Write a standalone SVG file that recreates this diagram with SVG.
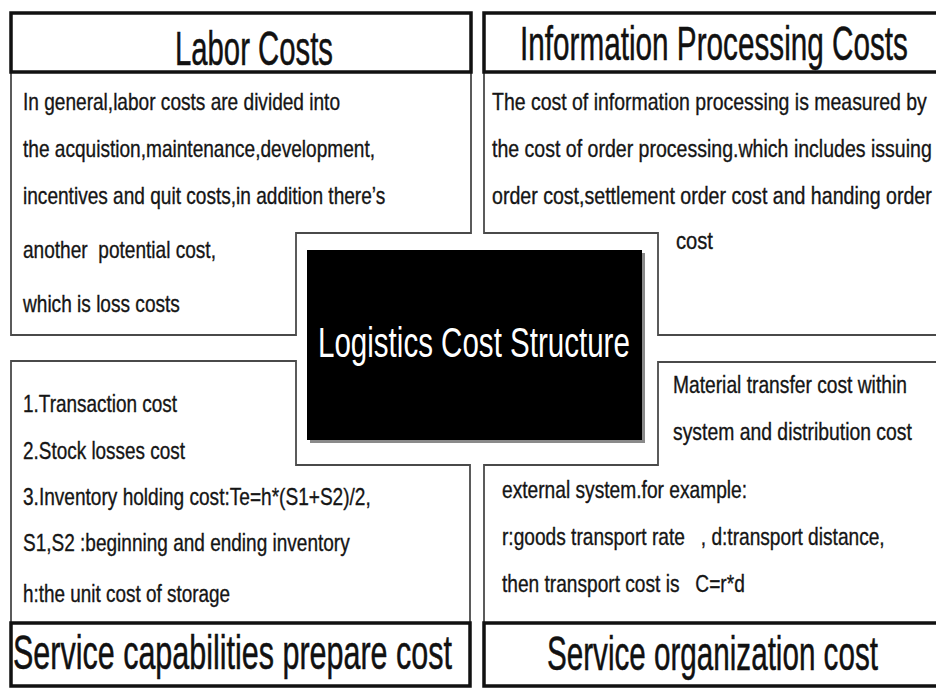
<svg xmlns="http://www.w3.org/2000/svg" width="936" height="688" viewBox="0 0 936 688">
  <style>
    .bg { fill: #ffffff; }
    .head { fill: #ffffff; stroke: #111111; stroke-width: 3.5; }
    .head-edge { fill: none; stroke: #111111; stroke-width: 3.5; }
    .head-fill { fill: #ffffff; }
    .panel { fill: none; stroke: #4a4a4a; stroke-width: 1.8; stroke-linejoin: miter; }
    .title { font-family: "Liberation Sans", Arial, sans-serif; font-size: 48px; fill: #111111; stroke: #111111; stroke-width: 0.5; }
    .body { font-family: "Liberation Sans", Arial, sans-serif; font-size: 24px; fill: #151515; stroke: #151515; stroke-width: 0.35; white-space: pre; }
    .core-text { font-family: "Liberation Sans", Arial, sans-serif; font-size: 42px; fill: #ffffff; }
  </style>

  <rect class="bg" x="0" y="0" width="936" height="688"/>

  <!-- Labor costs: top-left quadrant -->
  <g id="labor-costs">
    <polygon class="panel" points="11,72 471,72 471,233 296,233 296,335 11,335"/>
    <rect class="head" x="11" y="13" width="460" height="59"/>
    <text class="title" transform="translate(175,65) scale(0.6105,1)">Labor Costs</text>
    <text class="body" transform="translate(23,110) scale(0.795,1)">In general,labor costs are divided into</text>
    <text class="body" transform="translate(23,157) scale(0.795,1)">the acquistion,maintenance,development,</text>
    <text class="body" transform="translate(23,204) scale(0.795,1)">incentives and quit costs,in addition there’s</text>
    <text class="body" transform="translate(23,258) scale(0.795,1)" xml:space="preserve">another  potential cost,</text>
    <text class="body" transform="translate(23,312) scale(0.795,1)">which is loss costs</text>
  </g>

  <!-- Information processing costs: top-right quadrant (runs off the right edge) -->
  <g id="information-processing">
    <polyline class="panel" points="484,72 484,233 658,233 658,335 936,335"/>
    <rect class="head-fill" x="484" y="13" width="452" height="59"/>
    <path class="head-edge" d="M936,13 H484 V72 H936"/>
    <text class="title" transform="translate(520,60) scale(0.619,1)">Information Processing Costs</text>
    <text class="body" transform="translate(492,110) scale(0.811,1)">The cost of information processing is measured by</text>
    <text class="body" transform="translate(492,157) scale(0.8145,1)">the cost of order processing.which includes issuing</text>
    <text class="body" transform="translate(492,204) scale(0.8165,1)">order cost,settlement order cost and handing order</text>
    <text class="body" transform="translate(676,249) scale(0.84,1)">cost</text>
  </g>

  <!-- Service capabilities prepare cost: bottom-left quadrant -->
  <g id="service-capabilities">
    <polyline class="panel" points="11,623 11,361 296,361 296,465 470,465 470,623"/>
    <rect class="head" x="11" y="623" width="459" height="63"/>
    <text class="title" transform="translate(13,669) scale(0.6354,1)">Service capabilities prepare cost</text>
    <text class="body" transform="translate(23,412) scale(0.79,1)">1.Transaction cost</text>
    <text class="body" transform="translate(23,459) scale(0.789,1)">2.Stock losses cost</text>
    <text class="body" transform="translate(23,505) scale(0.795,1)">3.Inventory holding cost:Te=h*(S1+S2)/2,</text>
    <text class="body" transform="translate(23,551) scale(0.793,1)">S1,S2 :beginning and ending inventory</text>
    <text class="body" transform="translate(23,602) scale(0.788,1)">h:the unit cost of storage</text>
  </g>

  <!-- Service organization cost: bottom-right quadrant (runs off the right edge) -->
  <g id="service-organization">
    <polyline class="panel" points="936,362 658,362 658,465 484,465 484,623"/>
    <rect class="head-fill" x="484" y="623" width="452" height="63"/>
    <path class="head-edge" d="M936,623 H484 V686 H936"/>
    <text class="title" transform="translate(547,670) scale(0.6173,1)">Service organization cost</text>
    <text class="body" transform="translate(673,393) scale(0.801,1)">Material transfer cost within</text>
    <text class="body" transform="translate(673,440) scale(0.807,1)">system and distribution cost</text>
    <text class="body" transform="translate(502,498) scale(0.799,1)">external system.for example:</text>
    <text class="body" transform="translate(502,545) scale(0.7975,1)" xml:space="preserve">r:goods transport rate   , d:transport distance,</text>
    <text class="body" transform="translate(502,592) scale(0.797,1)" xml:space="preserve">then transport cost is   C=r*d</text>
  </g>

  <!-- Central title block with a soft drop shadow -->
  <g id="logistics-cost-structure">
    <rect x="310" y="253" width="335" height="190" fill="#8a8a8a"/>
    <rect x="307" y="250" width="335" height="190" fill="#000000"/>
    <text class="core-text" transform="translate(318,357) scale(0.7035,1)">Logistics Cost Structure</text>
  </g>

  <g id="connectors"/>
</svg>
